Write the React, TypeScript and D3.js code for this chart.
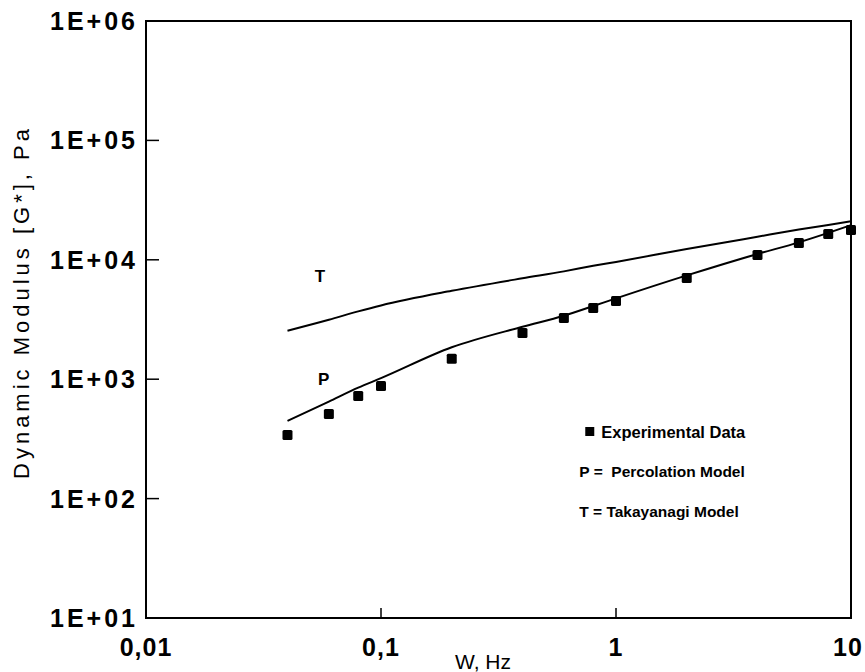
import React from "react";
import * as d3 from "d3";

const freqs = [0.04, 0.06, 0.08, 0.1, 0.2, 0.4, 0.6, 0.8, 1, 2, 4, 6, 8, 10];
const experimental = [341, 511, 723, 877, 1480, 2440, 3260, 3950, 4520, 7050, 10970, 13830, 16450, 17780];
const percolationModel = [447, 650, 850, 1020, 1850, 2750, 3400, 4100, 4750, 7400, 11200, 14000, 16800, 19500];
const takayanagiModel = [2550, 3150, 3700, 4150, 5500, 7000, 8000, 8900, 9600, 12300, 15600, 17900, 19600, 21000];

const xTickValues = [0.01, 0.1, 1, 10];
const xTickLabels = ["0,01", "0,1", "1", "10"];
const yTickValues = [10, 100, 1000, 10000, 100000, 1000000];
const yTickLabels = ["1E+01", "1E+02", "1E+03", "1E+04", "1E+05", "1E+06"];

const legendLabels = ["Experimental Data", "P =  Percolation Model", "T = Takayanagi Model"];

const W = 865;
const H = 672;
const left = 146;
const right = 851;
const top = 21;
const bottom = 618;

export default function App() {
  const x = d3.scaleLog().domain([0.01, 10]).range([left, right]);
  const y = d3.scaleLog().domain([10, 1e6]).range([bottom, top]);

  const pData = freqs.map((f, i) => [f, percolationModel[i]] as [number, number]);
  const tData = freqs.map((f, i) => [f, takayanagiModel[i]] as [number, number]);
  const line = d3
    .line<[number, number]>()
    .x((d) => x(d[0]))
    .y((d) => y(d[1]))
    .curve(d3.curveMonotoneX);

  const font = "'Liberation Sans', Arial, Helvetica, sans-serif";
  const sq = 10;

  const legendX = x(0.74);
  const legendY0 = 432;

  return (
    <svg
      width={W}
      height={H}
      style={{ position: "absolute", left: 0, top: 0, background: "#fff" }}
      fontFamily={font}
    >
      <rect x={0} y={0} width={W} height={H} fill="#fff" />
      {/* frame */}
      <rect
        x={left}
        y={top}
        width={right - left}
        height={bottom - top}
        fill="none"
        stroke="#000"
        strokeWidth={2}
      />
      {/* x ticks */}
      {xTickValues.slice(1, -1).map((v) => (
        <line key={"xt" + v} x1={x(v)} x2={x(v)} y1={bottom} y2={bottom - 10} stroke="#000" strokeWidth={1.5} />
      ))}
      {/* y ticks */}
      {yTickValues.slice(1, -1).map((v) => (
        <line key={"yt" + v} x1={left} x2={left + 13} y1={y(v)} y2={y(v)} stroke="#000" strokeWidth={1.5} />
      ))}
      {/* x tick labels */}
      {xTickValues.map((v, i) => (
        <text
          key={"xl" + v}
          x={x(v) - (i === xTickValues.length - 1 ? 3 : 0)}
          y={bottom + 38}
          textAnchor="middle"
          fontSize={25}
          fontWeight="bold"
          letterSpacing={1}
        >
          {xTickLabels[i]}
        </text>
      ))}
      {/* y tick labels */}
      {yTickValues.map((v, i) => (
        <text
          key={"yl" + v}
          x={left - 8}
          y={y(v)}
          dy="0.36em"
          textAnchor="end"
          fontSize={25}
          fontWeight="bold"
          letterSpacing={3}
        >
          {yTickLabels[i]}
        </text>
      ))}
      {/* axis titles */}
      <text x={483} y={669} textAnchor="middle" fontSize={21}>
        W, Hz
      </text>
      <text
        transform={`translate(29, 302) rotate(-90)`}
        textAnchor="middle"
        fontSize={22}
        letterSpacing={4}
      >
        Dynamic Modulus [G*], Pa
      </text>
      {/* model lines */}
      <path d={line(tData) || ""} fill="none" stroke="#000" strokeWidth={2} />
      <path d={line(pData) || ""} fill="none" stroke="#000" strokeWidth={2} />
      {/* experimental points */}
      {freqs.map((f, i) => (
        <rect
          key={"pt" + i}
          x={x(f) - sq / 2}
          y={y(experimental[i]) - sq / 2}
          width={sq}
          height={sq}
          rx={1.5}
          fill="#000"
        />
      ))}
      {/* curve labels */}
      <text x={x(0.055)} y={y(7300)} dy="0.35em" textAnchor="middle" fontSize={17} fontWeight="bold">
        T
      </text>
      <text x={x(0.057)} y={y(1000)} dy="0.35em" textAnchor="middle" fontSize={17} fontWeight="bold">
        P
      </text>
      {/* legend */}
      <rect x={legendX} y={legendY0 - 5} width={9} height={9} fill="#000" />
      <text x={legendX + 16} y={legendY0} dy="0.35em" fontSize={16.5} fontWeight="bold">
        {legendLabels[0]}
      </text>
      <text
        x={legendX - 6}
        y={legendY0 + 40}
        dy="0.35em"
        fontSize={15.5}
        fontWeight="bold"
        style={{ whiteSpace: "pre" }}
      >
        {legendLabels[1]}
      </text>
      <text x={legendX - 6} y={legendY0 + 80} dy="0.35em" fontSize={15.5} fontWeight="bold">
        {legendLabels[2]}
      </text>
    </svg>
  );
}
